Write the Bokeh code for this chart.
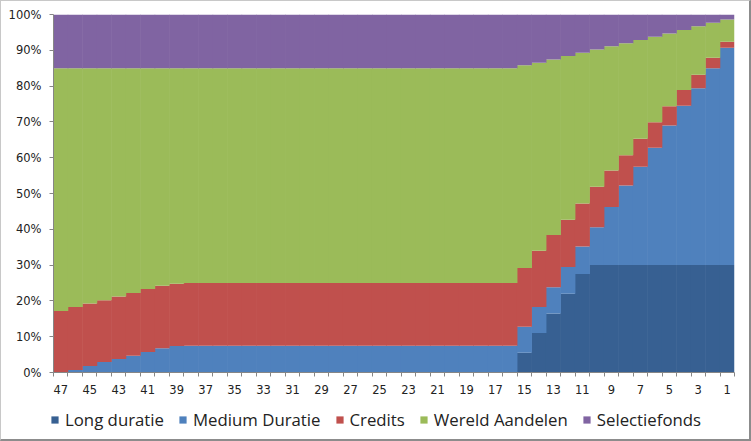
from bokeh.plotting import figure
from bokeh.layouts import column
from bokeh.models import ColumnDataSource, Range1d, FixedTicker, PrintfTickFormatter, Legend, LegendItem
from bokeh.embed import file_html
from bokeh.resources import INLINE

# ---- data (years to go, 47 .. 1) ----
years = [47, 46, 45, 44, 43, 42, 41, 40, 39, 38, 37, 36, 35, 34, 33, 32, 31, 30, 29, 28, 27, 26, 25, 24,
         23, 22, 21, 20, 19, 18, 17, 16, 15, 14, 13, 12, 11, 10, 9, 8, 7, 6, 5, 4, 3, 2, 1]

long_duratie = [0, 0, 0, 0, 0, 0, 0, 0, 0, 0, 0, 0, 0, 0, 0, 0, 0, 0, 0, 0, 0, 0, 0, 0,
                0, 0, 0, 0, 0, 0, 0, 0, 5.5, 11, 16.5, 22, 27.5, 30, 30, 30, 30, 30, 30, 30, 30, 30, 30]

medium_duratie = [0, 0.7, 1.8, 2.9, 3.8, 4.7, 5.7, 6.8, 7.4, 7.5, 7.5, 7.5, 7.5, 7.5, 7.5, 7.5, 7.5, 7.5, 7.5, 7.5,
                  7.5, 7.5, 7.5, 7.5, 7.5, 7.5, 7.5, 7.5, 7.5, 7.5, 7.5, 7.5,
                  7.3, 7.3, 7.3, 7.5, 7.7, 10.6, 16.2, 22.2, 27.5, 32.8, 39.0, 44.5, 49.4, 55.0, 60.7]

credits = [17.2, 17.6, 17.5, 17.3, 17.4, 17.5, 17.6, 17.4, 17.4, 17.5, 17.5, 17.5, 17.5, 17.5, 17.5, 17.5,
           17.5, 17.5, 17.5, 17.5, 17.5, 17.5, 17.5, 17.5, 17.5, 17.5, 17.5, 17.5, 17.5, 17.5, 17.5, 17.5,
           16.4, 15.7, 14.6, 13.2, 12.0, 11.3, 10.2, 8.5, 7.8, 7.1, 5.4, 4.4, 3.8, 2.9, 1.7]

wereld_aandelen = [67.8, 66.7, 65.7, 64.8, 63.8, 62.8, 61.7, 60.8, 60.2, 60, 60, 60, 60, 60, 60, 60,
                   60, 60, 60, 60, 60, 60, 60, 60, 60, 60, 60, 60, 60, 60, 60, 60,
                   56.6, 52.5, 49.0, 45.7, 42.1, 38.3, 34.7, 31.3, 27.6, 23.9, 20.3, 16.8, 13.5, 9.8, 6.2]

selectiefonds = [15, 15, 15, 15, 15, 15, 15, 15, 15, 15, 15, 15, 15, 15, 15, 15,
                 15, 15, 15, 15, 15, 15, 15, 15, 15, 15, 15, 15, 15, 15, 15, 15,
                 14.2, 13.5, 12.6, 11.6, 10.7, 9.8, 8.9, 8.0, 7.1, 6.2, 5.3, 4.3, 3.3, 2.3, 1.4]

series_names = ["Long duratie", "Medium Duratie", "Credits", "Wereld Aandelen", "Selectiefonds"]
series_keys = ["long", "medium", "credits", "wereld", "selectie"]
colors = ["#376092", "#4F81BD", "#C0504D", "#9BBB59", "#8064A2"]

x_tick_labels = [47, 45, 43, 41, 39, 37, 35, 33, 31, 29, 27, 25, 23, 21, 19, 17, 15, 13, 11, 9, 7, 5, 3, 1]
y_ticks = [0, 10, 20, 30, 40, 50, 60, 70, 80, 90, 100]

src = ColumnDataSource(dict(x=years, long=long_duratie, medium=medium_duratie, credits=credits,
                            wereld=wereld_aandelen, selectie=selectiefonds))

W = 748
H1, H2 = 400, 38
p = figure(width=W, height=H1, output_backend="svg", toolbar_location=None,
           x_range=Range1d(47.5, 0.5), y_range=Range1d(0, 100),
           min_border_left=52, min_border_right=15, min_border_top=13, min_border_bottom=H1 - 371)
p.frame_align = False

renderers = p.vbar_stack(series_keys, x="x", width=1.04, source=src, color=colors, line_width=0)
for r in renderers:
    r.glyph.line_color = None

p.outline_line_color = None
p.xgrid.visible = False
p.ygrid.visible = False
p.background_fill_color = "white"
p.border_fill_color = "white"

ax_col = "#868686"
p.yaxis.ticker = FixedTicker(ticks=y_ticks)
p.yaxis.formatter = PrintfTickFormatter(format="%d%%")
p.yaxis.axis_line_color = ax_col
p.yaxis.major_tick_line_color = ax_col
p.yaxis.major_tick_out = 4
p.yaxis.major_tick_in = 0
p.yaxis.minor_tick_line_color = None
p.yaxis.major_label_standoff = 8
p.yaxis.major_label_text_font = "DejaVu Sans"
p.yaxis.major_label_text_font_size = "11.5px"
p.yaxis.major_label_text_color = "#222222"

p.xaxis.ticker = FixedTicker(ticks=x_tick_labels, minor_ticks=[k + 0.5 for k in range(0, 48)])
p.xaxis.axis_line_color = ax_col
p.xaxis.major_tick_line_color = None
p.xaxis.major_tick_out = 0
p.xaxis.major_tick_in = 0
p.xaxis.minor_tick_line_color = ax_col
p.xaxis.minor_tick_out = 4
p.xaxis.minor_tick_in = 0
p.xaxis.major_label_standoff = 8
p.xaxis.major_label_text_font = "DejaVu Sans"
p.xaxis.major_label_text_font_size = "11.5px"
p.xaxis.major_label_text_color = "#222222"

# ---- legend strip below the chart (same renderers' styling, bars kept out of view) ----
p2 = figure(width=W, height=H2, output_backend="svg", toolbar_location=None,
            x_range=Range1d(200, 201), y_range=Range1d(200, 201),
            min_border_left=0, min_border_right=0, min_border_top=0, min_border_bottom=0,
            x_axis_type=None, y_axis_type=None)
p2.frame_align = False
p2.outline_line_color = None
p2.xgrid.visible = False
p2.ygrid.visible = False
p2.border_fill_color = "white"
p2.background_fill_color = "white"
leg_r = p2.vbar_stack(series_keys, x="x", width=1.0, source=src, color=colors, line_width=0)
for r in leg_r:
    r.glyph.line_color = None

items = [LegendItem(label=n, renderers=[r]) for n, r in zip(series_names, leg_r)]
legend = Legend(items=items, orientation="horizontal", location=(49, 8),
                label_text_font="Open Sans", label_text_font_size="16.8px", label_text_color="#222222",
                glyph_width=9, glyph_height=9, label_height=9, label_standoff=6, spacing=14,
                padding=0, margin=0, border_line_color=None, background_fill_alpha=0)
p2.add_layout(legend, "center")

layout = column(p, p2, spacing=0,
                styles={"border-style": "solid", "border-color": "#c8c8c8 #8c8c8c #8c8c8c #c8c8c8",
                        "border-width": "1px 2px 2px 1px", "background-color": "white"})

open("out.html", "w").write(file_html(layout, INLINE))
